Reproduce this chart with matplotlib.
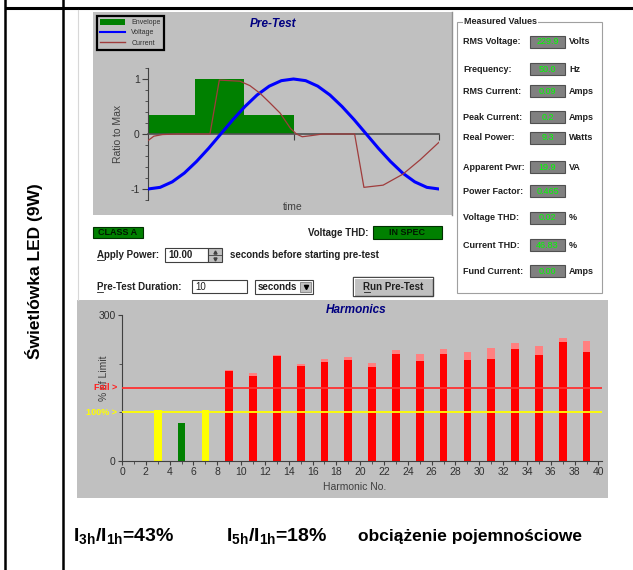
import numpy as np
import matplotlib
matplotlib.use('Agg')
import matplotlib.pyplot as plt
from matplotlib.patches import Rectangle, Patch
from matplotlib.lines import Line2D
from matplotlib.ticker import MultipleLocator

W, H = 633, 570

plt.rcParams['font.family'] = ['Liberation Sans', 'DejaVu Sans']
plt.rcParams['mathtext.fontset'] = 'custom'
plt.rcParams['mathtext.rm'] = 'Liberation Sans'
plt.rcParams['mathtext.bf'] = 'Liberation Sans:bold'

# pre-test waveforms over one mains period (ratio to max)
voltage = [-1.0, -0.97, -0.87, -0.71, -0.5, -0.26, 0.0, 0.26, 0.5, 0.71, 0.87, 0.97, 1.0,
           0.97, 0.87, 0.71, 0.5, 0.26, 0.0, -0.26, -0.5, -0.71, -0.87, -0.97, -1.0]
current_t = [0.0, 0.02, 0.05, 0.10, 0.213, 0.245, 0.316, 0.35, 0.385, 0.42, 0.454, 0.49, 0.51,
             0.53, 0.56, 0.60, 0.71, 0.742, 0.808, 0.876, 0.935, 1.0]
current = [-0.12, -0.04, -0.01, 0.0, 0.0, 0.98, 0.96, 0.88, 0.74, 0.56, 0.38, 0.10, 0.0,
           -0.05, -0.03, 0.0, 0.0, -0.97, -0.93, -0.73, -0.47, -0.15]
envelope_t = [0.0, 0.162, 0.33, 0.5]
envelope = [0.35, 1.0, 0.35, 0.35]

# odd harmonics, % of class A limit (present value and maximum)
harmonic_no = [3, 5, 7, 9, 11, 13, 15, 17, 19, 21, 23, 25, 27, 29, 31, 33, 35, 37, 39]
harm_now = [105, 79, 105, 185, 175, 216, 196, 203, 207, 194, 220, 206, 220, 207, 210, 230, 218, 244, 223]
harm_max = [105, 79, 105, 187, 181, 218, 199, 210, 214, 202, 228, 220, 230, 223, 233, 242, 236, 252, 247]
pass_limit = 100
fail_limit = 150

mv_labels = ['RMS Voltage:', 'Frequency:', 'RMS Current:', 'Peak Current:', 'Real Power:',
             'Apparent Pwr:', 'Power Factor:', 'Voltage THD:', 'Current THD:', 'Fund Current:']
mv_values = ['229.9', '50.0', '0.09', '0.2', '9.3', '19.9', '0.465', '0.02', '46.83', '0.00']
mv_units = ['Volts', 'Hz', 'Amps', 'Amps', 'Watts', 'VA', '', '%', '%', 'Amps']

GREY = '#c0c0c0'
TXT = '#202020'


def px_rect(x0, y0, x1, y1):
    return [x0 / W, 1 - y1 / H, (x1 - x0) / W, (y1 - y0) / H]


fig = plt.figure(figsize=(W / 100, H / 100), dpi=100)
fig.patch.set_facecolor('white')

ui = fig.add_axes([0, 0, 1, 1], zorder=0)
ui.set_xlim(0, W)
ui.set_ylim(H, 0)
ui.axis('off')


def box(x0, y0, x1, y1, fc, ec='none', lw=0.8, z=1):
    ui.add_patch(Rectangle((x0, y0), x1 - x0, y1 - y0, facecolor=fc, edgecolor=ec, lw=lw, zorder=z))


def label(x, y, s, size=7, bold=True, **kw):
    kw.setdefault('color', TXT)
    kw.setdefault('va', 'center')
    ui.text(x, y, s, fontsize=size, fontweight='bold' if bold else 'normal', zorder=5, **kw)


# table frame
ui.plot([5, W], [8, 8], color='black', lw=2.2, solid_capstyle='butt')
ui.plot([5, 5], [0, H], color='black', lw=1.8)
ui.plot([63, 63], [0, H], color='black', lw=1.8)
ui.plot([78, 78], [10, 300], color='#d8d8d8', lw=0.8)
ui.text(34, 271, 'Świetlówka LED (9W)', rotation=90, ha='center', va='center',
        fontsize=12.5, fontweight='bold')

# ---- pre-test panel ----
box(93, 12, 452, 215, GREY, z=0)
ui.plot([452, 452], [12, 215], color='#909090', lw=1)
ui.text(273, 24, 'Pre-Test', ha='center', va='center', fontsize=8.5, fontweight='bold',
        style='italic', color='#000080')
ui.text(118, 134, 'Ratio to Max', rotation=90, ha='center', va='center', fontsize=7.5, color='#404040')
ui.text(293, 207, 'time', ha='center', va='center', fontsize=7.5, color='#404040')

ax1 = fig.add_axes(px_rect(148, 68, 439, 200), zorder=2)
ax1.patch.set_alpha(0)
ax1.set_xlim(0, 1)
ax1.set_ylim(-1.2, 1.2)
ax1.fill_between(envelope_t, 0, envelope, step='post', color='#008000', lw=0, zorder=1)
ax1.plot(np.linspace(0, 1, len(voltage)), voltage, color='#0000ff', lw=2.2, zorder=3)
ax1.plot(current_t, current, color='#a03c3c', lw=0.9, zorder=4)
for s in ('top', 'right'):
    ax1.spines[s].set_visible(False)
ax1.spines['bottom'].set_position(('data', 0))
ax1.spines['bottom'].set_color('#505050')
ax1.spines['bottom'].set_linewidth(1.2)
ax1.spines['left'].set_color('#404040')
ax1.set_yticks([-1, 0, 1])
ax1.set_yticklabels(['-1', '0', '1'])
ax1.yaxis.set_minor_locator(MultipleLocator(0.2))
ax1.set_xticks([0.5, 1.0])
ax1.set_xticklabels([])
ax1.tick_params(axis='y', which='major', length=4, labelsize=7.5, labelcolor='#303030', color='#404040', pad=2)
ax1.tick_params(axis='y', which='minor', length=2, color='#404040')
ax1.tick_params(axis='x', length=4, color='#404040')

handles = [Patch(facecolor='#008000', edgecolor='none', label='Envelope'),
           Line2D([], [], color='#0000ff', lw=1.5, label='Voltage'),
           Line2D([], [], color='#a03c3c', lw=1.0, label='Current')]
leg = ax1.legend(handles=handles, loc='upper left', bbox_to_anchor=(97 / W, 1 - 16 / H),
                 bbox_transform=fig.transFigure, fontsize=5, frameon=True, fancybox=False,
                 edgecolor='black', facecolor=GREY, framealpha=1, borderpad=0.45,
                 labelspacing=0.4, handlelength=3.6, handleheight=0.9, handletextpad=0.9,
                 borderaxespad=0)
leg.get_frame().set_linewidth(1.6)
for t in leg.get_texts():
    t.set_color('#303030')

# ---- measured values group ----
ui.add_patch(Rectangle((457, 22), 145, 271, fill=False, edgecolor='#a0a0a0', lw=0.8, zorder=1))
ui.text(464, 22, 'Measured Values', va='center', fontsize=6.5, fontweight='bold', color=TXT,
        zorder=5, bbox=dict(facecolor='white', edgecolor='none', pad=1))
row_y = [42, 69, 91, 117, 138, 167, 191, 218, 245, 271]
for lab, val, unit, y in zip(mv_labels, mv_values, mv_units, row_y):
    label(463, y, lab, size=6.5)
    box(530, y - 6, 565, y + 6, '#808080', ec='#505050', lw=0.8, z=2)
    ui.text(547.5, y, val, ha='center', va='center', fontsize=6.5, color='#00ff00', zorder=5)
    if unit:
        label(569, y, unit, size=6.5)

# ---- test controls ----
box(93, 227, 143, 238, '#008000', ec='#003000', lw=0.8)
label(118, 232.5, 'CLASS A', size=6.5, ha='center', color='#001800')
label(368, 232.5, 'Voltage THD:', size=7, ha='right')
box(373, 226, 442, 239, '#008000', ec='#003000', lw=0.8)
label(407, 232.5, 'IN SPEC', size=6.5, ha='center', color='#001800')

label(97, 255, 'Apply Power:', size=7)
ui.plot([97, 104], [260, 260], color=TXT, lw=0.6)
box(165, 248, 208, 262, 'white', ec='#404040', lw=0.8)
label(168, 255, '10.00', size=7)
box(208, 248, 222, 262, GREY, ec='#404040', lw=0.8)
ui.plot([208, 222], [255, 255], color='#404040', lw=0.6)
ui.plot(215, 251.5, marker='^', ms=2.2, color='#404040', zorder=5)
ui.plot(215, 258.5, marker='v', ms=2.2, color='#404040', zorder=5)
label(230, 255, 'seconds before starting pre-test', size=7)

label(97, 287, 'Pre-Test Duration:', size=7)
ui.plot([97, 103], [292, 292], color=TXT, lw=0.6)
box(192, 280, 247, 293, 'white', ec='#404040', lw=0.8)
label(195, 286.5, '10', size=7, bold=False)
box(255, 280, 313, 294, 'white', ec='#404040', lw=0.8)
label(258, 287, 'seconds', size=7)
box(300, 282, 311, 292, GREY, ec='#808080', lw=0.6, z=2)
ui.plot(305.5, 287, marker='v', ms=3, color='black', zorder=5)
box(353, 277, 433, 296, GREY, ec='#404040', lw=1)
ui.plot([354, 432], [278, 278], color='white', lw=0.8, zorder=2)
ui.plot([354, 354], [278, 295], color='white', lw=0.8, zorder=2)
label(393, 286.5, 'Run Pre-Test', size=7, ha='center')
ui.plot([364, 370], [292, 292], color=TXT, lw=0.6)

# ---- harmonics panel ----
box(77, 300, 608, 498, GREY, z=0)
ui.text(356, 310, 'Harmonics', ha='center', va='center', fontsize=8.5, fontweight='bold',
        style='italic', color='#000080')
ui.text(104, 378, '% of Limit', rotation=90, ha='center', va='center', fontsize=7.5, color='#404040')
ui.text(355, 487, 'Harmonic No.', ha='center', va='center', fontsize=7.5, color='#404040')

ax2 = fig.add_axes(px_rect(122, 315, 602, 461), zorder=2)
ax2.patch.set_alpha(0)
ax2.set_xlim(0, 40.3)
ax2.set_ylim(0, 300)
now = np.array(harm_now)
peak = np.array(harm_max)
hn = np.array(harmonic_no)
colors = ['#008000' if v < pass_limit else '#ffff00' if v < fail_limit else '#ff0000' for v in harm_now]
red = now >= fail_limit
ax2.bar(hn[red], peak[red], width=0.65, color='#ff8080', zorder=1)
ax2.bar(hn, now, width=0.65, color=colors, zorder=2)
ax2.axhline(fail_limit, color='#ff3030', lw=1.3, zorder=3)
ax2.axhline(pass_limit, color='#ffff00', lw=1.3, zorder=3)
ax2.text(-0.4, fail_limit, 'Fail >', ha='right', va='center', color='#ff2020', fontsize=6.5,
         fontweight='bold', clip_on=False)
ax2.text(-0.4, pass_limit, f'{pass_limit}% >', ha='right', va='center', color='#ffff00',
         fontsize=6.5, fontweight='bold', clip_on=False)
for s in ('top', 'right'):
    ax2.spines[s].set_visible(False)
for s in ('left', 'bottom'):
    ax2.spines[s].set_color('#404040')
ax2.set_xticks(range(0, 41, 2))
ax2.xaxis.set_minor_locator(MultipleLocator(1))
ax2.set_yticks([0, 300])
ax2.yaxis.set_minor_locator(MultipleLocator(100))
ax2.tick_params(which='major', length=3, labelsize=7.5, labelcolor='#303030', color='#404040', pad=1.5)
ax2.tick_params(which='minor', length=2, color='#404040')

# ---- notes under the screenshot ----
ui.text(73, 536, r'$\mathbf{I_{3h}/I_{1h}}$=43%', va='center', fontsize=14, fontweight='bold')
ui.text(226, 536, r'$\mathbf{I_{5h}/I_{1h}}$=18%', va='center', fontsize=14, fontweight='bold')
ui.text(358, 536, 'obciążenie pojemnościowe', va='center', fontsize=12.5, fontweight='bold')

fig.savefig('out.png', dpi=100)
